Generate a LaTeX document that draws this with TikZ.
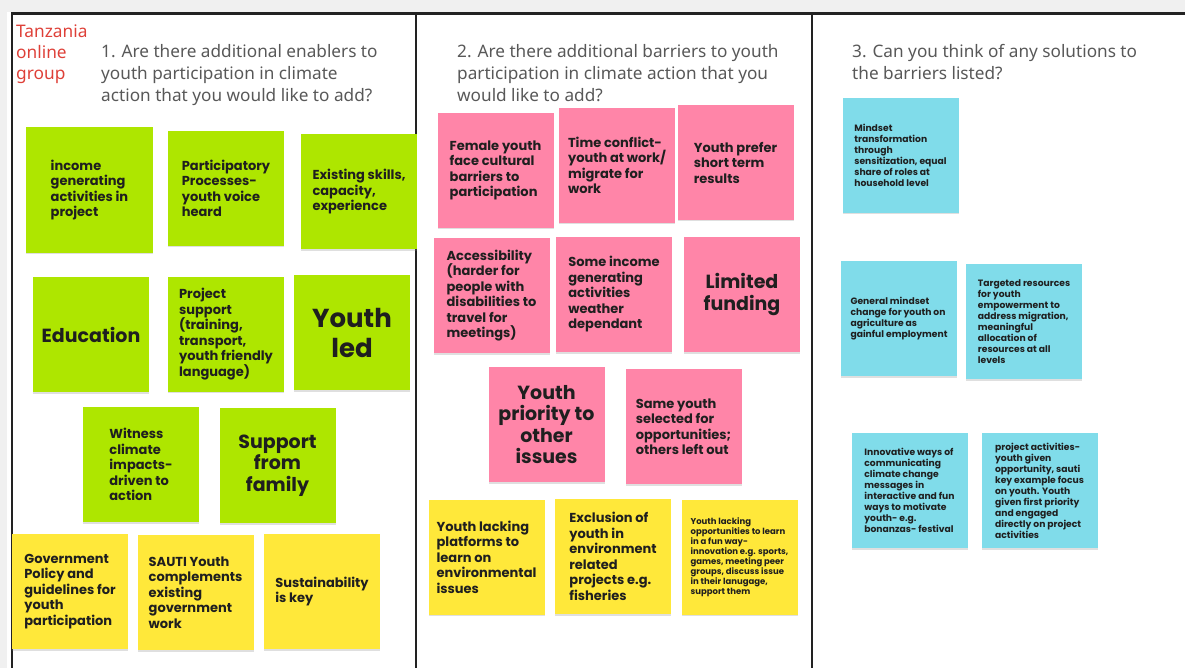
\documentclass[tikz,border=0pt]{standalone}
\usepackage{fontspec}
\setmainfont{Noto Sans}
\newfontfamily\notefont{Poppins}
\usetikzlibrary{shadows}
\definecolor{limenote}{RGB}{174,230,0}
\definecolor{pinknote}{RGB}{255,133,168}
\definecolor{yellownote}{RGB}{255,232,58}
\definecolor{cyannote}{RGB}{128,220,234}
\definecolor{headgray}{RGB}{88,88,88}
\definecolor{tzred}{RGB}{222,64,56}
\definecolor{framegray}{RGB}{34,34,34}
\tikzset{
  note/.style={minimum width=116pt, minimum height=115pt, align=left, inner sep=0pt,
    text=black!88, font=\notefont\bfseries\fontsize{13}{15.5}\selectfont,
    drop shadow={shadow xshift=0pt, shadow yshift=-1.5pt, opacity=.25}},
  bignote/.style={note, align=center, font=\notefont\bfseries\fontsize{19}{21.5}\selectfont},
  smallnote/.style={note, font=\notefont\bfseries\fontsize{9.2}{11}\selectfont},
  head/.style={anchor=north west, align=left, inner sep=0pt, text=headgray,
    font=\fontsize{17.2}{22}\selectfont},
  frame/.style={draw=framegray, line width=2.5pt}
}
\begin{document}
\begin{tikzpicture}[x=1pt, y=-1pt]
\useasboundingbox (0,0) rectangle (1185,668);
\fill[gray!12] (0,0) rectangle (1185,12);
\fill[gray!12] (0,12) rectangle (7,668);
\draw[frame] (12,668)--(12,13.5)--(1185,13.5);
\draw[frame] (416,13.5)--(416,668);
\draw[frame] (812,13.5)--(812,668);

\node[head, text=tzred, font=\fontsize{17.3}{21}\selectfont] (tz) at (16,25) {Tanzania\\online\\group};
\node[head] (q1) at (101,44) {1. Are there additional enablers to\\youth participation in climate\\action that you would like to add?};
\node[head] (q2) at (457,44) {2. Are there additional barriers to youth\\participation in climate action that you\\would like to add?};
\node[head] (q3) at (852,44) {3. Can you think of any solutions to\\the barriers listed?};

\node[note, fill=limenote, minimum width=127pt, minimum height=126pt] (income) at (89.5,190) {income\\generating\\activities in\\project};
\node[note, fill=limenote] (partic) at (226,188.5) {Participatory\\Processes-\\youth voice\\heard};
\node[note, fill=limenote] (skills) at (359,192) {Existing skills,\\capacity,\\experience};
\node[bignote, fill=limenote] (educ) at (91,334.5) {Education};
\node[note, fill=limenote] (projsup) at (226,334) {Project\\support\\(training,\\transport,\\youth friendly\\language)};
\node[bignote, fill=limenote, font=\notefont\bfseries\fontsize{26}{30}\selectfont] (youthled) at (352,332.5) {Youth\\led};
\node[note, fill=limenote] (witness) at (141,464.5) {Witness\\climate\\impacts-\\driven to\\action};
\node[bignote, fill=limenote] (family) at (277.5,465.5) {Support\\from\\family};
\node[note, fill=yellownote] (govpol) at (70,591.5) {Government\\Policy and\\guidelines for\\youth\\participation};
\node[note, fill=yellownote] (sauti) at (195.5,592.5) {SAUTI Youth\\complements\\existing\\government\\work};
\node[note, fill=yellownote] (sustain) at (322,591.5) {Sustainability\\is key};

\node[note, fill=pinknote] (female) at (495.5,170.5) {Female youth\\face cultural\\barriers to\\participation};
\node[note, fill=pinknote] (timeconf) at (617,165.5) {Time conflict-\\youth at work/\\migrate for\\work};
\node[note, fill=pinknote] (shortterm) at (735.5,162.5) {Youth prefer\\short term\\results};
\node[note, fill=pinknote] (access) at (491.5,295.5) {Accessibility\\(harder for\\people with\\disabilities to\\travel for\\meetings)};
\node[note, fill=pinknote] (weather) at (614,294.5) {Some income\\generating\\activities\\weather\\dependant};
\node[bignote, fill=pinknote] (funding) at (742,294.5) {Limited\\funding};
\node[bignote, fill=pinknote] (priority) at (546.5,424.5) {Youth\\priority to\\other\\issues};
\node[note, fill=pinknote] (sameyouth) at (683.5,426.5) {Same youth\\selected for\\opportunities;\\others left out};
\node[note, fill=yellownote] (platforms) at (486.5,557) {Youth lacking\\platforms to\\learn on\\environmental\\issues};
\node[note, fill=yellownote] (exclusion) at (613,556.5) {Exclusion of\\youth in\\environment\\related\\projects e.g.\\fisheries};
\node[smallnote, fill=yellownote, font=\notefont\bfseries\fontsize{8.5}{10}\selectfont] (funway) at (739.5,557) {Youth lacking\\opportunities to learn\\in a fun way-\\innovation e.g. sports,\\games, meeting peer\\groups, discuss issue\\in their lanugage,\\support them};

\node[smallnote, fill=cyannote] (mindset) at (900.5,155.5) {Mindset\\transformation\\through\\sensitization, equal\\share of roles at\\household level};
\node[smallnote, fill=cyannote] (general) at (899,318.5) {General mindset\\change for youth on\\agriculture as\\gainful employment};
\node[smallnote, fill=cyannote] (targeted) at (1024,321.5) {Targeted resources\\for youth\\empowerment to\\address migration,\\meaningful\\allocation of\\resources at all\\levels};
\node[smallnote, fill=cyannote] (innov) at (909.5,490.5) {Innovative ways of\\communicating\\climate change\\messages in\\interactive and fun\\ways to motivate\\youth- e.g.\\bonanzas- festival};
\node[smallnote, fill=cyannote] (projact) at (1039.5,490.5) {project activities-\\youth given\\opportunity, sauti\\key example focus\\on youth. Youth\\given first priority\\and engaged\\directly on project\\activities};
\end{tikzpicture}
\end{document}
